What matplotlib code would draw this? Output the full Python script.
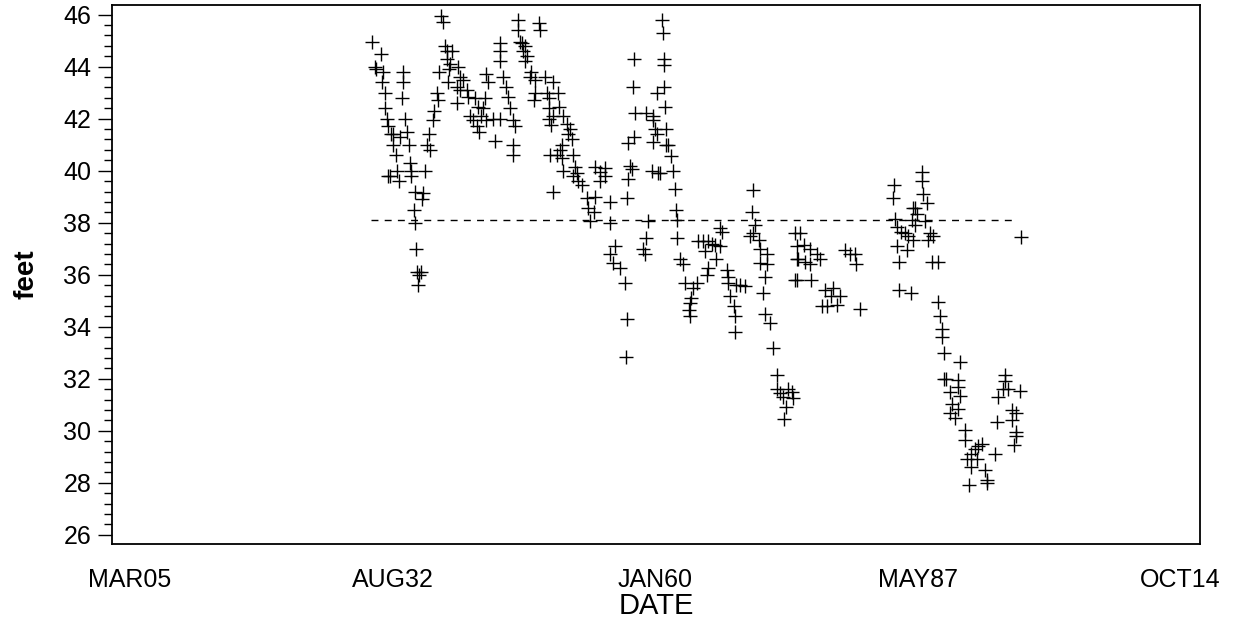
import matplotlib
matplotlib.use("Agg")
import matplotlib.pyplot as plt
import numpy as np

# water level readings (decimal year, feet)
years = [
    1930.45, 1931.4, 1930.8, 1930.9, 1931.6, 1931.5, 1931.8, 1933.7, 1933.75, 1933.6,
    1931.8, 1932.0, 1933.9, 1932.2, 1932.7, 1932.5, 1933.4, 1934.1, 1932.7, 1934.3,
    1933.0, 1934.45, 1934.6, 1934.6, 1936.0, 1932.4, 1933.1, 1933.3, 1932.2, 1935.0,
    1935.8, 1935.7, 1934.9, 1935.0, 1935.1, 1935.2, 1935.55, 1935.4, 1935.3,
    1936.4, 1936.2, 1936.5, 1936.8, 1936.9, 1937.4, 1937.3, 1937.5, 1937.7, 1937.9,
    1938.1, 1938.35, 1938.8, 1938.3, 1938.6, 1938.55, 1939.5, 1939.7, 1940.0, 1938.45,
    1939.3, 1939.7, 1940.4, 1940.5, 1939.3, 1941.2, 1941.55, 1942.1, 1942.3, 1940.7,
    1941.05, 1941.4, 1941.6, 1941.9, 1942.4, 1943.1, 1943.8, 1943.3, 1942.4, 1942.6,
    1943.8, 1943.8, 1943.8, 1944.2, 1944.5, 1944.7, 1944.9, 1945.2, 1945.4, 1945.2,
    1945.2,
    1945.75, 1945.75, 1947.9, 1948.05, 1945.9, 1946.1, 1946.4, 1946.25, 1946.6, 1946.4,
    1947.1, 1946.95, 1947.5, 1948.5, 1949.4, 1947.5, 1948.7, 1949.9, 1948.9, 1947.4,
    1948.9, 1950.0, 1949.4, 1948.9, 1949.2, 1950.4, 1950.8, 1951.1, 1950.95, 1951.3,
    1950.3, 1950.1, 1949.05, 1949.75, 1950.3, 1951.5, 1951.7, 1950.45, 1951.85, 1951.4,
    1952.0, 1952.35, 1952.9, 1953.75, 1953.05, 1953.6, 1953.2, 1955.3, 1955.3, 1949.4,
    1953.75, 1954.3, 1954.8, 1954.8, 1954.3, 1957.05, 1957.4, 1957.6, 1957.2, 1957.2,
    1957.8, 1957.9, 1957.7, 1957.8, 1955.8, 1955.3, 1956.35, 1956.9, 1957.05, 1956.95,
    1955.65, 1958.8, 1959.1, 1958.95, 1959.3, 1960.7, 1960.8, 1960.9, 1960.9, 1960.95,
    1960.2, 1961.05, 1959.8, 1959.8, 1960.2, 1960.0, 1959.75, 1961.2, 1959.65, 1960.35,
    1959.1, 1960.5, 1961.2, 1961.4,
    1961.7, 1961.9, 1962.1, 1962.2, 1962.3, 1962.3, 1962.6, 1962.95, 1963.1, 1964.35,
    1964.0, 1963.8, 1963.65, 1963.5, 1963.6, 1964.5, 1965.0, 1965.55, 1965.9, 1966.25,
    1966.8, 1966.8, 1966.95, 1965.2, 1966.4, 1965.55, 1965.4, 1967.5, 1967.65, 1967.65,
    1967.8, 1968.9, 1969.4, 1968.5, 1968.2, 1968.35, 1968.35, 1970.25, 1970.1, 1970.45,
    1970.25, 1969.9, 1970.8, 1970.95, 1971.65, 1970.95, 1971.65, 1971.5, 1971.3, 1971.5,
    1972.0, 1972.3, 1972.7, 1972.7, 1973.0, 1973.4, 1973.9, 1974.25, 1974.4, 1973.45,
    1973.7, 1974.6, 1974.8, 1974.8, 1974.6,
    1975.1, 1975.5, 1976.2, 1974.95, 1975.6, 1976.2, 1977.2, 1976.9, 1974.8, 1976.3,
    1977.7, 1978.6, 1978.4, 1979.3, 1977.4, 1977.9, 1978.95, 1979.8, 1980.3, 1980.85,
    1980.95, 1981.4, 1984.9, 1984.85, 1985.0, 1985.2, 1985.7, 1986.05, 1986.4, 1986.95,
    1985.2, 1986.25, 1985.4, 1985.4, 1986.7, 1987.8, 1987.8, 1988.0, 1988.35, 1987.1,
    1987.3, 1986.8, 1987.1, 1988.2, 1988.7, 1989.0, 1988.5, 1988.85, 1989.55, 1989.55,
    1989.7, 1989.9, 1989.9, 1990.15, 1990.4, 1986.95,
    1990.1, 1991.8, 1991.6, 1991.6, 1990.8, 1991.8, 1990.95, 1991.6, 1990.8, 1991.3,
    1992.3, 1992.3, 1994.1, 1993.7, 1993.4, 1993.0, 1992.5, 1993.55, 1993.0, 1994.4,
    1994.6, 1994.6, 1992.7, 1995.5, 1996.5, 1996.5, 1996.3, 1996.8, 1998.1, 1995.8,
    1995.7, 1997.2, 1997.7, 1997.2, 1997.6, 1997.7, 1997.4, 1998.2,
]
feet = [
    44.96, 44.5, 44.0, 43.9, 43.8, 43.4, 43.0, 43.8, 43.4, 42.8,
    42.4, 42.0, 42.0, 41.7, 41.4, 41.4, 41.3, 41.5, 41.0, 41.0,
    40.6, 40.3, 40.0, 39.8, 40.0, 39.8, 40.0, 39.6, 39.8, 39.2,
    39.15, 38.9, 38.5, 38.0, 37.0, 36.1, 36.1, 36.0, 35.6,
    41.4, 41.0, 40.8, 41.95, 42.3, 42.7, 43.0, 43.8, 45.94, 45.7,
    44.8, 44.6, 44.6, 44.3, 44.1, 43.9, 44.0, 43.6, 43.5, 43.4,
    43.2, 43.1, 43.1, 42.85, 42.6, 42.8, 42.45, 42.4, 42.8, 42.1,
    41.95, 41.7, 41.5, 42.1, 41.95, 42.0, 41.97, 41.15, 43.7, 43.4,
    44.9, 44.6, 44.2, 43.6, 43.2, 42.85, 42.4, 41.95, 41.7, 41.0,
    40.6,
    45.8, 45.4, 45.66, 45.4, 44.95, 44.9, 44.8, 44.6, 44.4, 44.2,
    43.8, 43.6, 43.5, 43.6, 43.4, 43.0, 43.0, 43.0, 42.8, 42.7,
    42.4, 42.45, 42.1, 42.0, 41.75, 42.1, 41.8, 41.6, 41.4, 41.2,
    41.0, 40.8, 40.6, 40.6, 40.5, 40.6, 40.15, 40.0, 39.9, 39.8,
    39.6, 39.45, 38.95, 39.0, 38.55, 38.4, 38.05, 38.8, 38.0, 39.2,
    40.15, 39.95, 40.1, 39.8, 39.6, 38.95, 40.2, 40.05, 39.7, 41.05,
    41.3, 42.2, 43.2, 44.3, 37.1, 36.8, 36.25, 35.7, 34.3, 32.85,
    36.45, 37.0, 37.4, 36.8, 38.05, 45.8, 45.3, 44.3, 44.05, 43.2,
    43.0, 42.45, 42.1, 41.95, 41.4, 41.6, 41.1, 41.0, 40.0, 39.9,
    42.2, 39.9, 41.6, 41.0,
    40.55, 40.0, 39.3, 38.5, 38.1, 37.4, 36.6, 36.4, 35.7, 35.7,
    35.5, 35.1, 34.9, 34.65, 34.4, 37.3, 37.3, 37.3, 37.2, 37.15,
    37.1, 37.8, 37.65, 36.9, 36.6, 36.25, 36.0, 36.2, 35.9, 35.7,
    35.2, 35.6, 35.55, 35.6, 34.8, 34.4, 33.8, 39.25, 38.4, 37.9,
    37.6, 37.5, 37.35, 37.0, 36.8, 36.45, 36.4, 35.9, 35.3, 34.5,
    34.15, 33.2, 32.15, 31.6, 31.45, 31.3, 31.6, 31.5, 31.25, 30.45,
    30.9, 37.6, 37.1, 36.6, 35.8,
    37.6, 37.15, 37.0, 36.6, 36.5, 36.4, 36.6, 36.8, 35.8, 35.8,
    35.4, 35.5, 35.2, 35.2, 34.8, 34.8, 34.85, 36.95, 36.8, 36.8,
    36.4, 34.7, 39.45, 38.95, 38.15, 37.85, 37.65, 37.6, 37.5, 37.35,
    37.1, 36.95, 36.5, 35.4, 35.3, 39.95, 39.6, 39.1, 38.75, 38.55,
    38.35, 38.1, 37.9, 38.05, 37.6, 37.5, 37.35, 36.5, 36.5, 34.95,
    34.4, 33.9, 33.6, 33.0, 32.0, 38.55,
    32.0, 32.65, 31.95, 31.7, 31.5, 31.35, 31.05, 30.85, 30.7, 30.5,
    30.05, 29.65, 29.5, 29.4, 29.3, 29.1, 28.9, 28.9, 28.6, 28.5,
    28.1, 28.0, 27.9, 29.1, 32.15, 31.9, 31.6, 31.6, 31.55, 31.3,
    30.35, 30.8, 30.7, 30.4, 29.95, 29.8, 29.45, 37.45,
]

# dashed reference level
ref_level = 38.1
ref_start = 1930.4
ref_end = 1997.75

# SAS style date ticks (days from 01JAN1960)
tick_days = [-20000, -10000, 0, 10000, 20000]
tick_labels = ["MAR05", "AUG32", "JAN60", "MAY87", "OCT14"]


def to_days(y):
    return (np.asarray(y) - 1960.0) * 365.25


fig = plt.figure(figsize=(12.35, 6.27), dpi=100)
ax = fig.add_axes([112 / 1235, 83 / 627, 1088 / 1235, 539 / 627])

ax.plot(to_days(years), feet, linestyle="none", marker="+", color="black",
        markersize=9.5, markeredgewidth=1.0)
ax.plot(to_days([ref_start, ref_end]), [ref_level, ref_level], color="black",
        linewidth=1.0, linestyle=(0, (5, 4.5)))

ax.set_xlim(to_days(1903.37), to_days(2016.84))
ax.set_ylim(25.65, 46.37)

font = "Liberation Sans"
ax.set_xticks(tick_days)
ax.set_xticklabels(tick_labels, fontsize=18, family=font)
ax.set_xticks([0], minor=True)
ax.tick_params(axis="x", which="major", length=0, pad=17)
ax.tick_params(axis="x", which="minor", length=6.5, width=1.0, direction="out")

ax.set_yticks(np.arange(26, 47, 2))
ax.set_yticklabels([str(v) for v in range(26, 47, 2)], fontsize=18, family=font)
ax.set_yticks(np.arange(26, 46.01, 0.4), minor=True)
ax.tick_params(axis="y", which="major", length=10, width=1.0, pad=5)
ax.tick_params(axis="y", which="minor", length=6, width=1.0)

for s in ax.spines.values():
    s.set_linewidth(1.3)

ax.set_ylabel("feet", fontsize=20, fontweight="bold", family=font, labelpad=17)
ax.set_xlabel("DATE", fontsize=21, family=font, labelpad=0)

fig.savefig("out.png", dpi=100)
